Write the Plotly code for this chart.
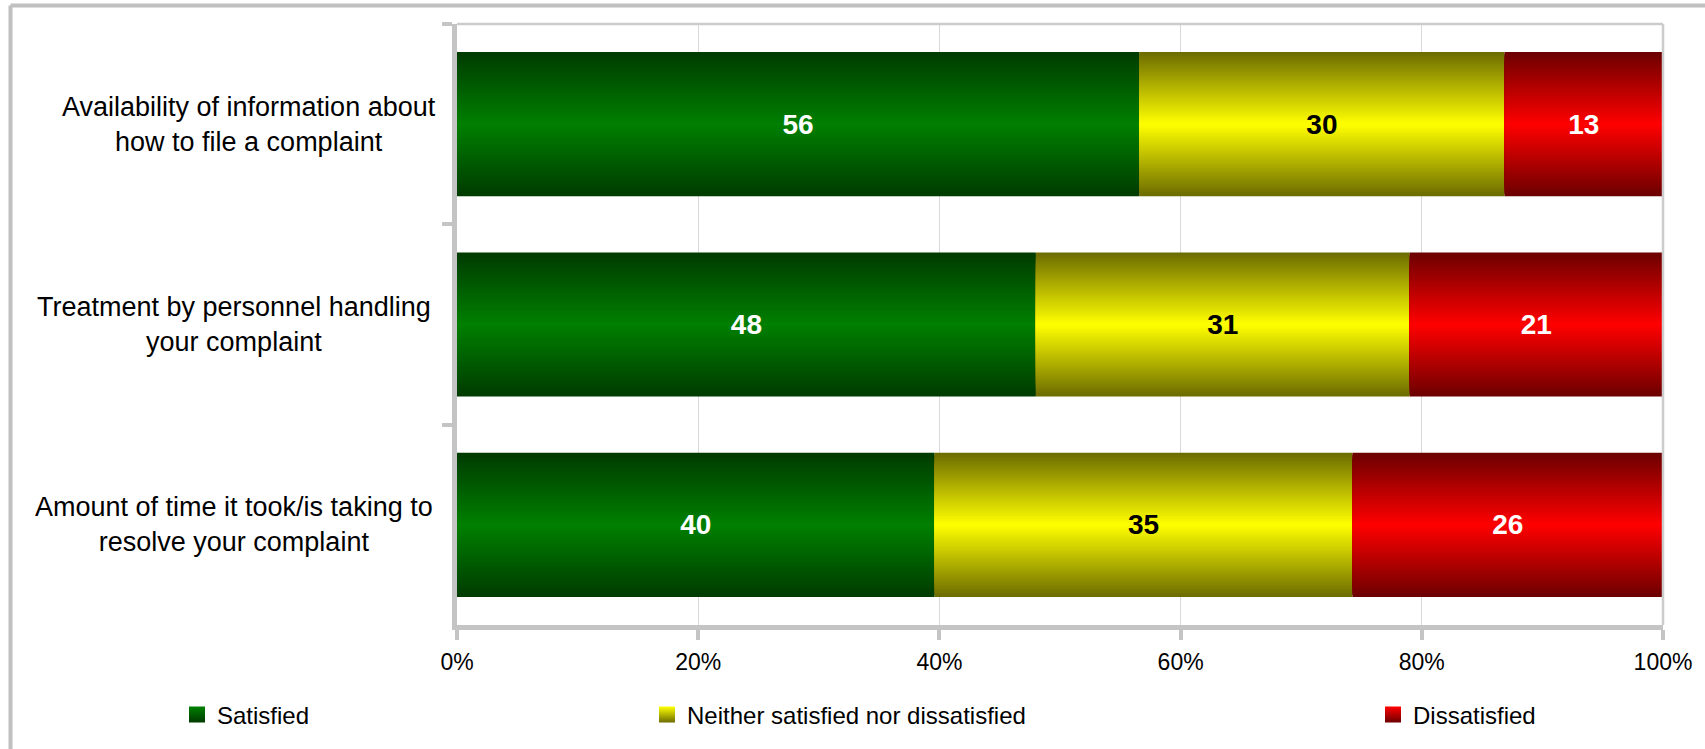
import plotly.graph_objects as go

# ---------------- data ----------------
categories = [
    "Availability of information about how to file a complaint",
    "Treatment by personnel handling your complaint",
    "Amount of time it took/is taking to resolve your complaint",
]
category_labels = [
    "Availability of information about<br>how to file a complaint",
    "Treatment by personnel handling<br>your complaint",
    "Amount of time it took/is taking to<br>resolve your complaint",
]
series_names = ["Satisfied", "Neither satisfied nor dissatisfied", "Dissatisfied"]
satisfied = [56, 48, 40]
neither = [30, 31, 35]
dissatisfied = [13, 21, 26]
x_tick_values = [0, 20, 40, 60, 80, 100]
x_tick_labels = ["0%", "20%", "40%", "60%", "80%", "100%"]

# ---------------- styles ----------------
center_colors = [(0, 128, 0), (255, 255, 0), (255, 0, 0)]
edge_colors = [(0, 58, 0), (107, 107, 0), (107, 0, 0)]
label_colors = ["white", "black", "white"]
FONT = "Liberation Sans, Arial, sans-serif"
BAR_W = 0.72
N_LAYERS = 36

W, H = 1705, 749
L, R, T, B = 457, 42, 24, 124
PW, PH = W - L - R, H - T - B
label_center_px = [249, 234, 234]
legend_px = [177, 647, 1373]


def px_x(px):
    return (px - L) / PW


def px_y(py):
    return (H - B - py) / PH


def rgb(c):
    return "rgb(%d,%d,%d)" % c


series_values = [satisfied, neither, dissatisfied]
totals = [sum(v[i] for v in series_values) for i in range(len(categories))]
pcts = [[v[i] / totals[i] * 100 for i in range(len(categories))] for v in series_values]
bases = []
for s in range(len(series_values)):
    bases.append([sum(pcts[j][i] for j in range(s)) for i in range(len(categories))])

fig = go.Figure()
legend_ids = ["legend", "legend2", "legend3"]

# gradient bars: stacked layers of decreasing thickness, brighter toward center
for s in range(len(series_values)):
    c, e = center_colors[s], edge_colors[s]
    for k in range(N_LAYERS):
        h = 1 - k / N_LAYERS
        d = max(h - 0.5 / N_LAYERS, 0)
        col = tuple(round(e[j] + (c[j] - e[j]) * (1 - d)) for j in range(3))
        fig.add_trace(go.Bar(
            y=categories, x=pcts[s], base=bases[s], orientation="h",
            width=BAR_W * h,
            marker=dict(color=rgb(col), line=dict(width=0)),
            name=series_names[s], showlegend=False,
            hoverinfo="skip",
        ))

# value labels
for s in range(len(series_values)):
    fig.add_trace(go.Bar(
        y=categories, x=pcts[s], base=bases[s], orientation="h",
        width=BAR_W,
        marker=dict(color="rgba(0,0,0,0)", line=dict(width=0)),
        text=[str(v) for v in series_values[s]],
        textposition="inside", insidetextanchor="middle",
        constraintext="none", textangle=0,
        textfont=dict(family=FONT, size=28, color=label_colors[s], weight="bold"),
        showlegend=False, hoverinfo="skip",
    ))

# legend entries
for s in range(len(series_values)):
    fig.add_trace(go.Scatter(
        x=[None], y=[None], mode="markers", name=series_names[s],
        marker=dict(symbol="square", size=16, color=rgb(center_colors[s]),
                    gradient=dict(type="vertical", color=rgb(edge_colors[s])),
                    line=dict(width=0)),
        legend=legend_ids[s], showlegend=True, hoverinfo="skip",
    ))

# category labels (centered multi-line)
for cat, lab, cx in zip(categories, category_labels, label_center_px):
    fig.add_annotation(
        x=px_x(cx), xref="paper", y=cat, yref="y",
        text=lab, showarrow=False, xanchor="center", yanchor="middle",
        align="center", font=dict(family=FONT, size=27, color="black"),
    )

# plot-area top and right border
fig.add_shape(type="line", xref="paper", yref="paper", x0=0, x1=1, y0=1, y1=1,
              line=dict(color="#cccccc", width=2.5))
fig.add_shape(type="line", xref="paper", yref="paper", x0=1, x1=1, y0=0, y1=1,
              line=dict(color="#cccccc", width=2.5))
# outer chart frame (top and left visible)
fig.add_shape(type="line", xref="paper", yref="paper",
              x0=px_x(10.5), x1=px_x(1720), y0=px_y(5.5), y1=px_y(5.5),
              line=dict(color="#c0c0c0", width=4))
fig.add_shape(type="line", xref="paper", yref="paper",
              x0=px_x(10.5), x1=px_x(10.5), y0=px_y(5.5), y1=px_y(770),
              line=dict(color="#c0c0c0", width=4))

legend_common = dict(
    orientation="h", xref="container", yref="container", yanchor="middle",
    xanchor="left", font=dict(family=FONT, size=24, color="black"),
    bgcolor="rgba(0,0,0,0)", borderwidth=0,
)

fig.update_layout(
    width=W, height=H,
    margin=dict(l=L, r=R, t=T, b=B, autoexpand=False),
    paper_bgcolor="white", plot_bgcolor="white",
    barmode="overlay",
    font=dict(family=FONT, size=23, color="black"),
    xaxis=dict(
        range=[0, 100], tickmode="array", tickvals=x_tick_values, ticktext=x_tick_labels,
        showgrid=True, gridcolor="#d9d9d9", gridwidth=1,
        showline=True, linecolor="#c4c4c4", linewidth=5,
        ticks="outside", ticklen=10, tickwidth=4, tickcolor="#c4c4c4",
        tickfont=dict(family=FONT, size=23, color="black"),
        ticklabelstandoff=2, zeroline=False, fixedrange=True,
    ),
    yaxis=dict(
        type="category", categoryorder="array", categoryarray=categories,
        range=[2.5, -0.5], showgrid=False, zeroline=False,
        showline=True, linecolor="#c4c4c4", linewidth=5,
        ticks="outside", tickson="boundaries", ticklen=10, tickwidth=4,
        tickcolor="#c4c4c4", showticklabels=False, fixedrange=True,
    ),
    legend=dict(x=legend_px[0] / W, y=1 - 715 / H, **legend_common),
    legend2=dict(x=legend_px[1] / W, y=1 - 715 / H, **legend_common),
    legend3=dict(x=legend_px[2] / W, y=1 - 715 / H, **legend_common),
)

fig.write_html(
    "out.html",
    config={"displayModeBar": False},
    post_script="document.body.style.margin='0';document.body.style.padding='0';",
)
